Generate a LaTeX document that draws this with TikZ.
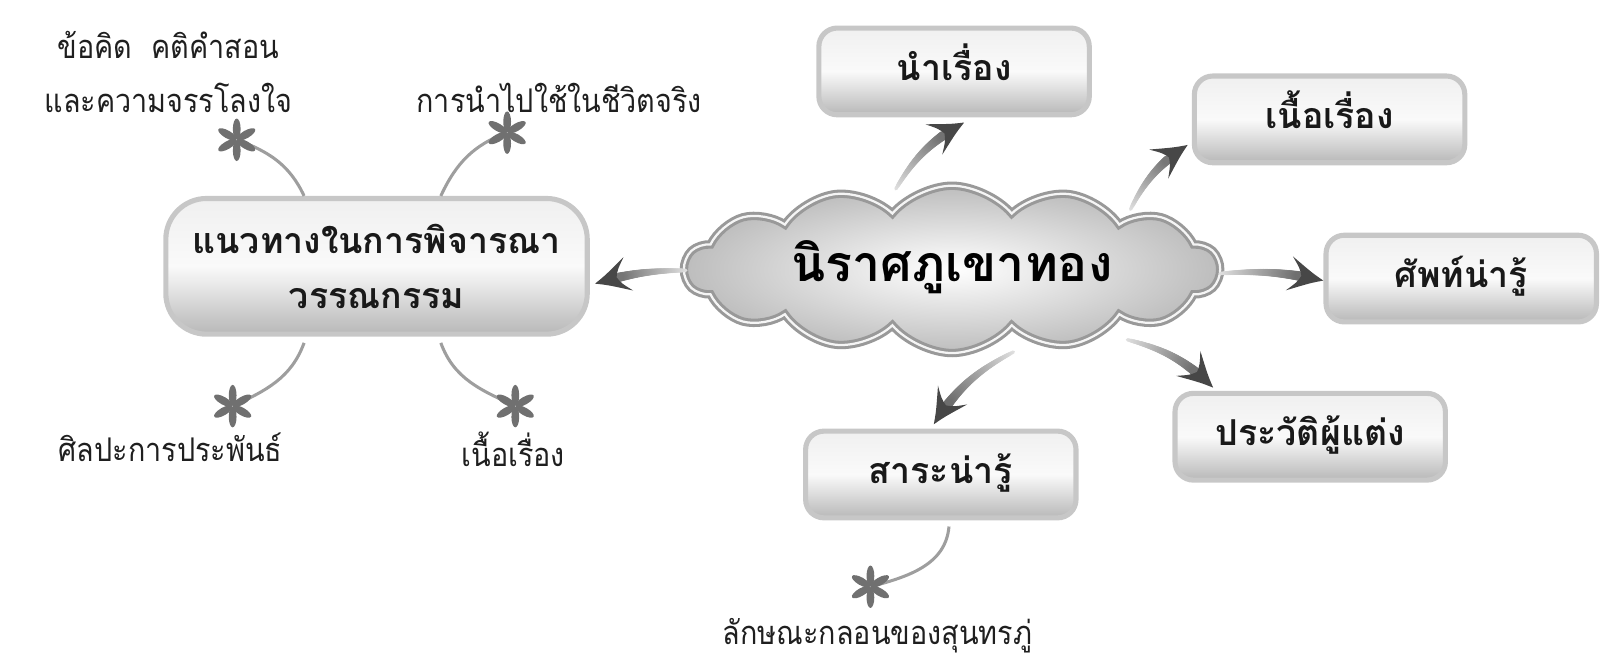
\documentclass[tikz,border=0pt]{standalone}
\usepackage{fontspec}
\newfontfamily\thai[Script=Thai]{Loma}
\newfontfamily\thaic[Script=Thai,FakeStretch=0.88]{Loma}
\usetikzlibrary{shapes.symbols,decorations.markings}
\tikzset{
  boxbase/.style={draw=black!22, line width=2.5pt, rounded corners=9pt,
    top color=black!6, bottom color=black!28, middle color=black!2,
    minimum width=132.5pt, minimum height=42.5pt, inner sep=0pt,
    font=\thai\bfseries\fontsize{17.5}{20}\selectfont, text=black!90},
  box/.style={boxbase, text height=8.5pt, text depth=0pt},
  lab/.style={font=\thaic\fontsize{16}{18}\selectfont, text=black!88, inner sep=0pt, anchor=base},
  link/.style={draw=black!38, line width=1.5pt},
  astar/.pic={\foreach \a in {0,60,...,300}{\fill[black!56,rotate=\a] (0,5.3pt) ellipse (1.9pt and 5.1pt);}},
  fatarrow/.style={
    postaction={decorate},
    decoration={markings,
      mark=between positions 0 and -12pt step 0.4pt with {%
        \pgfmathsetmacro\fa{\pgfkeysvalueof{/pgf/decoration/mark info/distance from start}/\pgfdecoratedpathlength}%
        \pgfmathsetmacro\ra{0.9+1.9*\fa}%
        \pgfmathsetmacro\ca{12+58*\fa}%
        \fill[black!\ca] (0,0) circle (\ra pt);},
      mark=at position 1 with {%
        \fill[black!72] (0,0) .. controls (-6pt,2.5pt) .. (-17pt,8.5pt) .. controls (-12.5pt,3.5pt) .. (-11pt,0pt) .. controls (-12.5pt,-3.5pt) .. (-17pt,-8.5pt) .. controls (-6pt,-2.5pt) .. (0,0) -- cycle;}
    }
  }
}
\begin{document}
\begin{tikzpicture}[x=0.5pt,y=0.5pt]
\useasboundingbox (0,0) rectangle (1568,654);
% boxes
\node[box] (b1) at (935,584) {นำเรื่อง};
\node[box] (b2) at (1303,537) {เนื้อเรื่อง};
\node[box] (b3) at (1432,381) {ศัพท์น่ารู้};
\node[box] (b4) at (1284,226) {ประวัติผู้แต่ง};
\node[box] (b5) at (922,189) {สาระน่ารู้};
\node[boxbase, minimum width=206.5pt, minimum height=66.5pt, rounded corners=20pt, align=center,
  font=\thai\bfseries\fontsize{17.5}{27}\selectfont] (big) at (369,393) {แนวทางในการพิจารณา\\วรรณกรรม};
% cloud
\node[cloud, cloud puffs=14, cloud puff arc=100, cloud ignores aspect,
  minimum width=262pt, minimum height=82pt, draw=black!40, line width=1.5pt,
  double=black!4, double distance=1.1pt, inner color=white, outer color=black!26,
  font=\thai\bfseries\fontsize{24.5}{28}\selectfont, text height=12pt, text depth=0pt] (cl) at (933,390) {นิราศภูเขาทอง};
% star points
\coordinate (s1) at (232,517);
\coordinate (s2) at (497,524);
\coordinate (s3) at (228,256);
\coordinate (s4) at (505,256);
\coordinate (s5) at (853,79);
% thin links
\draw[link] ([xshift=-35.5pt]big.north) to[out=115,in=-20] (s1);
\draw[link] ([xshift=31.5pt]big.north) to[out=65,in=200] (s2);
\draw[link] ([xshift=-35.5pt,yshift=-3pt]big.south) to[out=-110,in=25] (s3);
\draw[link] ([xshift=31.5pt,yshift=-3pt]big.south) to[out=-70,in=155] (s4);
\draw[link] ([xshift=4pt,yshift=-3pt]b5.south) to[out=-95,in=15] (s5);
\foreach \s in {s1,s2,s3,s4,s5} \pic at (\s) {astar};
% fat arrows
\path[fatarrow] ([xshift=-27.5pt,yshift=39.5pt]cl.center) to[bend left=15] ([xshift=5pt,yshift=-2.5pt]b1.south);
\path[fatarrow] ([xshift=87.5pt,yshift=29.5pt]cl.center) to[bend left=15] ([xshift=-2pt,yshift=-12.5pt]b2.west);
\path[fatarrow] ([xshift=131.5pt,yshift=-2pt]cl.center) to[bend left=8] ([yshift=-1pt]b3.west);
\path[fatarrow] ([xshift=86pt,yshift=-34.5pt]cl.center) to[bend left=15] ([xshift=-47.5pt,yshift=1.5pt]b4.north);
\path[fatarrow] ([xshift=30pt,yshift=-40.5pt]cl.center) to[bend right=15] ([xshift=-3.5pt,yshift=2pt]b5.north);
\path[fatarrow] ([xshift=-130.5pt,yshift=-0.5pt]cl.center) to[bend right=8] ([xshift=2.5pt,yshift=-8.5pt]big.east);
% labels
\node[lab] (l1a) at (165,597) {ข้อคิด\ \ คติคำสอน};
\node[lab] (l1b) at (165,544) {และความจรรโลงใจ};
\node[lab] (l2) at (548,544) {การนำไปใช้ในชีวิตจริง};
\node[lab] (l3) at (167,202) {ศิลปะการประพันธ์};
\node[lab] (l4) at (503,197) {เนื้อเรื่อง};
\node[lab] (l5) at (860,22) {ลักษณะกลอนของสุนทรภู่};
\end{tikzpicture}
\end{document}
